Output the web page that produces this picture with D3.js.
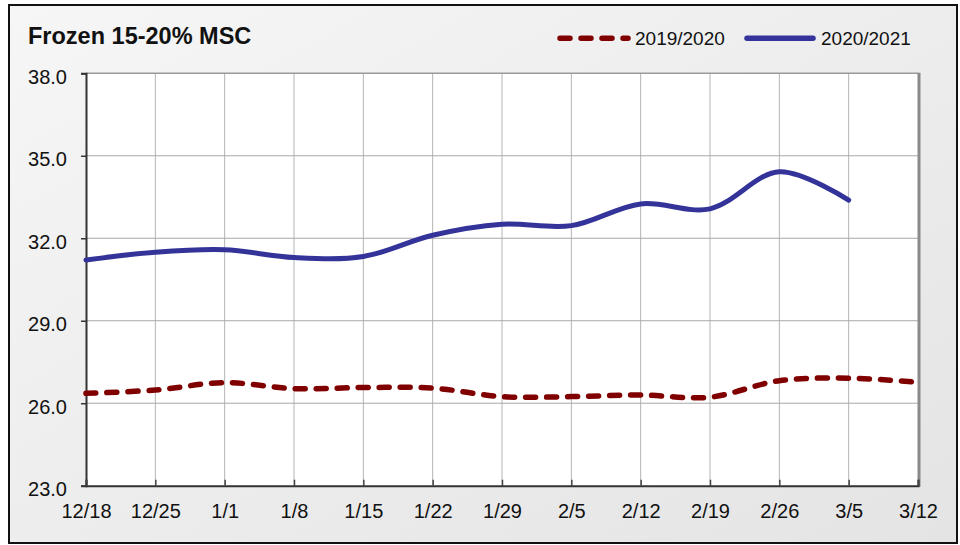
<!DOCTYPE html>
<html><head><meta charset="utf-8">
<script src="https://cdn.jsdelivr.net/npm/d3@7"></script>
<style>html,body{margin:0;padding:0;background:#fff;}svg{display:block;font-family:"Liberation Sans",Arial,sans-serif;}</style>
</head><body>
<svg id="c" width="960" height="545"></svg>
<script>
const title = "Frozen 15-20% MSC";
const categories = ["12/18","12/25","1/1","1/8","1/15","1/22","1/29","2/5","2/12","2/19","2/26","3/5","3/12"];
const yTicks = [23.0, 26.0, 29.0, 32.0, 35.0, 38.0];
const series2019 = [26.36, 26.48, 26.75, 26.53, 26.57, 26.55, 26.24, 26.24, 26.30, 26.22, 26.82, 26.91, 26.76];
const series2020 = [31.21, 31.49, 31.58, 31.30, 31.34, 32.11, 32.51, 32.46, 33.25, 33.07, 34.42, 33.39];
const seriesNames = ["2019/2020", "2020/2021"];
const seriesColors = ["#800000", "#333399"];

const svg = d3.select("#c");
const defs = svg.append("defs");
const grad = defs.append("linearGradient").attr("id","bg").attr("x1","0").attr("y1","0").attr("x2","1").attr("y2","1");
grad.append("stop").attr("offset","0%").attr("stop-color","#f6f6f6");
grad.append("stop").attr("offset","100%").attr("stop-color","#e4e4e4");

svg.append("rect").attr("x",9).attr("y",5).attr("width",948).attr("height",538)
  .attr("fill","url(#bg)").attr("stroke","#111").attr("stroke-width",2);

const L = 86, R = 918, T = 73.3, B = 485.7;
const x = d3.scalePoint().domain(categories).range([L, R]);
const y = d3.scaleLinear().domain([23, 38]).range([B, T]);

svg.append("rect").attr("x",L).attr("y",T).attr("width",R-L).attr("height",B-T).attr("fill","#fff");

// gridlines
svg.append("g").selectAll("line").data(categories.slice(1, -1)).join("line")
  .attr("x1", d => x(d)).attr("x2", d => x(d)).attr("y1", T).attr("y2", B)
  .attr("stroke","#b4b4b4").attr("stroke-width",1);
svg.append("g").selectAll("line").data(yTicks.slice(1, -1)).join("line")
  .attr("x1", L).attr("x2", R).attr("y1", d => y(d)).attr("y2", d => y(d))
  .attr("stroke","#a8a8a8").attr("stroke-width",1);

// plot border
svg.append("line").attr("x1",L).attr("x2",R).attr("y1",T).attr("y2",T).attr("stroke","#9a9a9a").attr("stroke-width",1.5);
svg.append("line").attr("x1",R+1).attr("x2",R+1).attr("y1",T-0.5).attr("y2",B+1).attr("stroke","#8a8a8a").attr("stroke-width",3);

// axes
const yAxis = d3.axisLeft(y).tickValues(yTicks).tickFormat(d3.format(".1f")).tickSize(5).tickPadding(14);
const gy = svg.append("g").attr("transform",`translate(${L},0)`).call(yAxis);
gy.select(".domain").attr("stroke","#333").attr("stroke-width",2);
gy.selectAll(".tick line").attr("stroke","#333").attr("stroke-width",1.5);
gy.selectAll(".tick text").attr("font-size",20).attr("fill","#111").attr("dy","0.5em").attr("font-family","Liberation Sans, Arial, sans-serif");

const xAxis = d3.axisBottom(x).tickSize(-6).tickPadding(0);
const gx = svg.append("g").attr("transform",`translate(0,${B})`).call(xAxis);
gx.select(".domain").attr("stroke","#333").attr("stroke-width",2);
gx.selectAll(".tick line").attr("stroke","#444").attr("stroke-width",1.5);
gx.selectAll(".tick text").attr("font-size",20).attr("fill","#111").attr("y",32).attr("dy",0).attr("font-family","Liberation Sans, Arial, sans-serif");

// lines
const line = d3.line().x((d,i) => x(categories[i])).y(d => y(d)).curve(d3.curveCatmullRom.alpha(0.5));
svg.append("path").datum(series2019).attr("d", line).attr("fill","none")
  .attr("stroke", seriesColors[0]).attr("stroke-width",5.5).attr("stroke-linecap","round")
  .attr("stroke-dasharray","10,11");
svg.append("path").datum(series2020).attr("d", line).attr("fill","none")
  .attr("stroke", seriesColors[1]).attr("stroke-width",5).attr("stroke-linecap","round");

// title
svg.append("text").attr("x",28).attr("y",44).text(title)
  .attr("font-weight","bold").attr("font-size",23.5).attr("fill","#111")
  .attr("font-family","Liberation Sans, Arial, sans-serif");

// legend
const legend = [{x1:560, x2:628, tx:635, i:0},{x1:747, x2:813, tx:821, i:1}];
legend.forEach(l => {
  svg.append("line").attr("x1",l.x1).attr("x2",l.x2).attr("y1",38.3).attr("y2",38.3)
    .attr("stroke",seriesColors[l.i]).attr("stroke-width",5.5).attr("stroke-linecap","round")
    .attr("stroke-dasharray", l.i === 0 ? "10,11" : null);
  svg.append("text").attr("x",l.tx).attr("y",45).text(seriesNames[l.i])
    .attr("font-size",19).attr("fill","#111").attr("font-family","Liberation Sans, Arial, sans-serif");
});
</script>
</body></html>
